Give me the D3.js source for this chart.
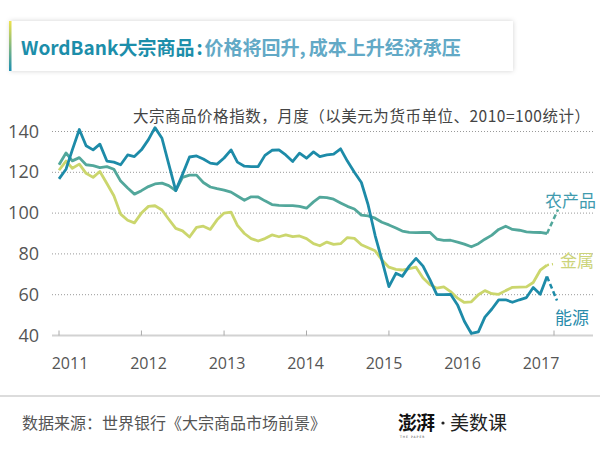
<!DOCTYPE html>
<html>
<head>
<meta charset="utf-8">
<script src="https://cdn.jsdelivr.net/npm/d3@7"></script>
<style>
    body { margin: 0; background: #fff; }
    svg { display: block; font-family: 'Noto Sans CJK SC', 'Noto Sans', sans-serif; }
</style>
</head>
<body>
<div class="Canvas"></div>
<script>
// monthly index, 2010 = 100, Jan 2011 .. Dec 2016
let energy = [
    116.8, 121.5, 131, 141, 133, 131, 133.8, 125.5, 125, 123.7, 128.5, 127.7,
    131, 136, 141.9, 136.7, 124, 111, 119, 127.5, 128, 126.5, 124.5, 124,
    127, 131, 125, 123, 122.8, 122.8, 128.3, 130.8, 131, 128.5, 125.3, 129.4,
    126.9, 130, 127.7, 128.5, 128.9, 131.5, 125.5, 120, 115, 104, 89, 77,
    64, 70.5, 69, 74, 77.8, 74, 67.5, 60, 60, 60.2, 55, 47,
    41, 41.8, 49, 53, 57.5, 57.5, 56.3, 57.5, 58.6, 63.5, 60.2, 68.9,
];
let agriculture = [
    123.7, 129.5, 125.6, 127.2, 123.7, 123.3, 122.3, 122.8, 121.5, 115.7, 112.3, 109.3,
    111, 113, 114.3, 114.7, 113.5, 111, 117.5, 118.6, 118.6, 115, 112.8, 112,
    111.3, 110.3, 108.4, 106.3, 108, 107.9, 106, 104.2, 103.8, 103.7, 103.7, 103.3,
    102.4, 105.5, 107.8, 107.6, 106.8, 105, 103.3, 102, 99, 98.6, 97.5, 95.5,
    94.2, 92.7, 91.2, 90.6, 90.4, 90.5, 90.6, 87.3, 86.6, 86.7, 85.8, 84.8,
    83.5, 85, 87.2, 89.2, 92, 93.6, 92, 91.6, 90.8, 90.6, 90.5, 90,
];
let metals = [
    121, 125.5, 122, 124, 119.5, 117.5, 120.4, 114.5, 108.5, 99.5, 96.5, 95.2,
    100, 103.3, 103.6, 101.5, 97, 92.5, 91.3, 88.3, 93, 93.6, 92, 96.7,
    100, 100.5, 94, 90, 87.5, 86.3, 87.5, 89.3, 88.4, 89.3, 88.5, 88.8,
    87.5, 85, 84, 85.8, 84.7, 85, 88, 87.6, 84.5, 83, 81.5, 77,
    73.5, 72.4, 72.1, 72.8, 73.5, 68.2, 65, 63.2, 63.8, 61.5, 58.3, 56.2,
    56.5, 60, 62, 60.5, 60.2, 62, 63.6, 63.7, 63.8, 66, 72, 74.5,
];
let years = [2011, 2012, 2013, 2014, 2015, 2016, 2017];
let yTicks = [40, 60, 80, 100, 120, 140];
let seriesNames = ['农产品', '金属', '能源'];

let width = 600;
let height = 452;
let months = d3.timeMonth.range(new Date(2011, 0, 1), new Date(2017, 0, 1));

let x = d3.scaleTime().domain([new Date(2011, 0, 1), new Date(2017, 0, 1)]).range([59, 554]);
let y = d3.scaleLinear().domain([40, 140]).range([335.5, 131.5]);
// year labels sit on their own spacing in the original
let xLabel = d3.scaleLinear().domain([2011, 2017]).range([70, 541]);

let svg = d3.select('.Canvas').append('svg').attr('width', width).attr('height', height);
let defs = svg.append('defs');

let shadow = defs.append('filter').attr('id', 'shadow').attr('x', '-5%').attr('y', '-30%').attr('width', '110%').attr('height', '160%');
shadow.append('feDropShadow').attr('dx', 0).attr('dy', 0).attr('stdDeviation', 2.5).attr('flood-color', '#000').attr('flood-opacity', 0.18);

let barGrad = defs.append('linearGradient').attr('id', 'barGrad').attr('x1', 0).attr('y1', 0).attr('x2', 0).attr('y2', 1);
barGrad.append('stop').attr('offset', '0%').attr('stop-color', '#eee24c');
barGrad.append('stop').attr('offset', '100%').attr('stop-color', '#1b8fb3');

// title box
svg.append('rect')
    .attr('x', 10).attr('y', 21).attr('width', 503).attr('height', 50)
    .attr('fill', '#fff')
    .attr('filter', 'url(#shadow)');
svg.append('rect')
    .attr('x', 9).attr('y', 21).attr('width', 2.5).attr('height', 50)
    .attr('fill', 'url(#barGrad)');

let title = svg.append('text').attr('x', 21).attr('y', 55).attr('font-size', '19px').attr('font-weight', 'bold');
title.append('tspan').attr('fill', '#1c8eaa').text('WordBank大宗商品');
title.append('tspan').attr('fill', '#1c8eaa').attr('dx', 2).text(':');
title.append('tspan').attr('fill', '#62a9c6').attr('dx', 2).text('价格将回升');
title.append('tspan').attr('fill', '#62a9c6').text(',');
title.append('tspan').attr('fill', '#62a9c6').attr('dx', 3).text('成本上升经济承压');

// subtitle
svg.append('text')
    .attr('x', 133).attr('y', 122)
    .attr('textLength', 457)
    .attr('lengthAdjust', 'spacing')
    .attr('font-size', '15.5px')
    .attr('fill', '#444')
    .text('大宗商品价格指数，月度（以美元为货币单位、2010=100统计）');

// grid
svg.append('g')
    .selectAll('line')
    .data(yTicks.filter((d) => d > 40))
    .enter()
    .append('line')
    .attr('x1', 52).attr('x2', 593)
    .attr('y1', (d) => y(d)).attr('y2', (d) => y(d))
    .attr('stroke', '#999')
    .attr('stroke-width', 1)
    .attr('stroke-dasharray', '1,2');

svg.append('g')
    .selectAll('text')
    .data(yTicks)
    .enter()
    .append('text')
    .attr('x', 39)
    .attr('y', (d) => y(d) + 6)
    .attr('text-anchor', 'end')
    .attr('font-family', "'Open Sans', sans-serif")
    .attr('font-size', '18px')
    .attr('fill', '#555')
    .text((d) => d);

// x axis
svg.append('line')
    .attr('x1', 52).attr('x2', 593)
    .attr('y1', y(40)).attr('y2', y(40))
    .attr('stroke', '#d2d2d2')
    .attr('stroke-width', 2);

svg.append('g')
    .selectAll('line')
    .data(years)
    .enter()
    .append('line')
    .attr('x1', (d) => x(new Date(d, 0, 1))).attr('x2', (d) => x(new Date(d, 0, 1)))
    .attr('y1', y(40) - 5).attr('y2', y(40))
    .attr('stroke', '#aaa')
    .attr('stroke-width', 1);

svg.append('g')
    .selectAll('text')
    .data(years)
    .enter()
    .append('text')
    .attr('x', (d) => xLabel(d))
    .attr('y', 369)
    .attr('text-anchor', 'middle')
    .attr('font-family', "'Open Sans', sans-serif")
    .attr('font-size', '16px')
    .attr('fill', '#555')
    .text((d) => d);

// lines
let series = [
    { name: seriesNames[0], values: agriculture, color: '#52a79b', labelColor: '#3f9bae', ly: 207, lx: 545, lead: [11, -24], dash: '5,3' },
    { name: seriesNames[1], values: metals, color: '#cbd66d', labelColor: '#ccd47a', ly: 267, lx: 560, lead: [6, -1], dash: '2,3' },
    { name: seriesNames[2], values: energy, color: '#1d8ba8', labelColor: '#2a8cab', ly: 324, lx: 555, lead: [10, 24], dash: '5,3' },
];

let line = d3.line()
    .x((d, i) => x(months[i]))
    .y((d) => y(d))
    .curve(d3.curveLinear);

series.forEach((s) => {
    let last = s.values.length - 1;
    let lastX = x(months[last]);
    let lastY = y(s.values[last]);

    svg.append('line')
        .attr('x1', lastX).attr('y1', lastY)
        .attr('x2', lastX + s.lead[0]).attr('y2', lastY + s.lead[1])
        .attr('stroke', s.color)
        .attr('stroke-width', 2.5)
        .attr('stroke-dasharray', s.dash);

    svg.append('path')
        .datum(s.values)
        .attr('d', line)
        .attr('fill', 'none')
        .attr('stroke', s.color)
        .attr('stroke-width', 2.8)
        .attr('stroke-linejoin', 'round');

    svg.append('text')
        .attr('x', s.lx).attr('y', s.ly)
        .attr('font-size', '17px')
        .attr('fill', s.labelColor)
        .text(s.name);
});

// footer
svg.append('line')
    .attr('x1', 0).attr('x2', width)
    .attr('y1', 396).attr('y2', 396)
    .attr('stroke', '#dcdcdc')
    .attr('stroke-width', 2);

svg.append('text')
    .attr('x', 22).attr('y', 429)
    .attr('font-size', '16px')
    .attr('fill', '#555')
    .text('数据来源：世界银行《大宗商品市场前景》');

let logo = svg.append('g').attr('transform', 'translate(398,0)');
logo.append('text')
    .attr('x', 0).attr('y', 430)
    .attr('font-size', '19px')
    .attr('font-weight', 'bold')
    .attr('fill', '#111')
    .attr('letter-spacing', '-1px')
    .text('澎湃');
logo.append('text')
    .attr('x', 2).attr('y', 438)
    .attr('font-family', "'DejaVu Sans', sans-serif")
    .attr('font-size', '3px')
    .attr('fill', '#444')
    .attr('letter-spacing', '1px')
    .text('THE PAPER');
logo.append('circle').attr('cx', 45).attr('cy', 423).attr('r', 1.6).attr('fill', '#222');
logo.append('text')
    .attr('x', 52).attr('y', 430)
    .attr('font-size', '19px')
    .attr('fill', '#222')
    .text('美数课');
</script>
</body>
</html>
